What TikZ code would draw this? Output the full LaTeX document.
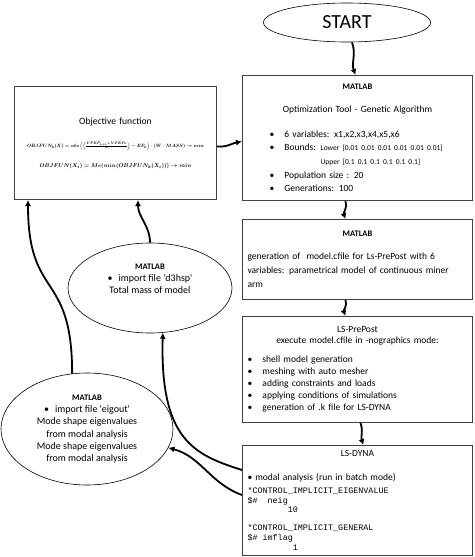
\documentclass[tikz,border=0pt]{standalone}
\usepackage{fontspec}
\setmainfont{Carlito}
\setmonofont{Liberation Mono}
\usepackage{amsmath}
\usepackage{graphicx}
\usetikzlibrary{shapes.geometric,arrows.meta,positioning}
\setlength{\parindent}{0pt}
\newlength{\bndw}
\newcommand{\bitem}[2][22pt]{\par\noindent\hspace*{#1}\makebox[15pt][l]{\textbullet}#2}
\newcommand{\titlefont}{\fontsize{8.5}{10}\selectfont\bfseries}
\newcommand{\smallfont}{\fontsize{7.5}{9}\selectfont}
\tikzset{
	boxed/.style={rectangle,draw=black!75,line width=1pt,anchor=north west,
		minimum width=230pt,text width=220pt,inner xsep=5pt,inner ysep=0pt,
		font=\fontsize{9.5}{12}\selectfont},
	elli/.style={ellipse,draw,line width=0.6pt,align=center,inner sep=0pt,
		font=\fontsize{10}{12.3}\selectfont},
	flow/.style={-{Latex[length=6pt,width=6pt]},line width=1.8pt},
}
\begin{document}
\begin{tikzpicture}[x=1pt,y=-1pt]
	\useasboundingbox (0,0) rectangle (474,557);
	% right column
	\node[elli,minimum width=167pt,minimum height=39pt,font=\fontsize{20}{24}\selectfont] (start) at (347,22.5) {START};
	\node[boxed,minimum height=125pt] (opt) at (242,75) {
		{\centering\titlefont MATLAB\par}
		\vspace{11pt}
		{\centering Optimization Tool - Genetic Algorithm\par}
		\vspace{11pt}
		\fontsize{9.5}{13.7}\selectfont
		\bitem{6 variables: x1,x2,x3,x4,x5,x6}
		\bitem{\settowidth{\bndw}{Bounds: }Bounds: {\smallfont Lower [0.01 0.01 0.01 0.01 0.01 0.01]}}
		\par\hspace*{\dimexpr 37pt+\bndw\relax}{\smallfont Upper [0.1 0.1 0.1 0.1 0.1 0.1]}
		\bitem{Population size : 20}
		\bitem{Generations: 100}\par
	};
	\node[boxed,minimum height=80pt] (model) at (242,219) {
		{\centering\titlefont MATLAB\par}
		\vspace{9pt}
		\fontsize{9.5}{14}\selectfont
		generation of\ \ model.cfile for Ls-PrePost with 6\\
		variables: parametrical model of continuous miner\\
		arm\par
		\vspace{11pt}
	};
	\node[boxed,minimum height=106pt] (prepost) at (242,316) {
		\fontsize{9.5}{11}\selectfont
		{\centering LS-PrePost\par}
		{\centering execute model.cfile in -nographics mode:\par}
		\vspace{7pt}
		\fontsize{9.5}{12}\selectfont
		\bitem[0pt]{shell model generation}
		\bitem[0pt]{meshing with auto mesher}
		\bitem[0pt]{adding constraints and loads}
		\bitem[0pt]{applying conditions of simulations}
		\bitem[0pt]{generation of .k file for LS-DYNA}\par
		\vspace{11pt}
	};
	\node[boxed,minimum height=110pt] (dyna) at (242,445) {
		{\centering LS-DYNA\par}
		\vspace{12pt}
		\textbullet\ modal analysis (run in batch mode)\par
		\vspace{3pt}
		{\ttfamily\fontsize{8.4}{9.7}\selectfont
		*CONTROL\_IMPLICIT\_EIGENVALUE\\
		\$\#\phantom{00}neig\\
		\phantom{00000000}10\\[8.3pt]
		*CONTROL\_IMPLICIT\_GENERAL\\
		\$\#\phantom{0}imflag\\
		\phantom{000000000}1\par}
	};
	% left column
	\node[boxed,minimum width=202pt,text width=192pt,minimum height=113pt] (obj) at (14,86) {
		{\centering\fontsize{9.6}{12}\selectfont Objective function\par}
		\vspace{11pt}
		{\centering\resizebox{177pt}{!}{\boldmath$OBJFUN_k(X) = abs\left(\left(\frac{VFEP_{k+1}+VFEP_k}{2}\right)-EF_k\right)\cdot(W\cdot MASS)\rightarrow min$}\par}
		\vspace{8pt}
		{\centering\resizebox{152pt}{!}{\boldmath$OBJFUN(X_i) = Me(min(OBJFUN_k(X_i)))\rightarrow min$}\par}
		\vspace{4pt}
	};
	\node[elli,minimum width=164pt,minimum height=90pt] (mass) at (150,288) {
		{\titlefont MATLAB}\\
		\textbullet\hspace{6pt}import file \textquotesingle d3hsp\textquotesingle\\
		Total mass of model\\[6pt]
		\mbox{}};
	\node[elli,minimum width=172pt,minimum height=112pt] (eig) at (87,429) {
		{\titlefont MATLAB}\\
		\textbullet\hspace{6pt}import file \textquotesingle eigout\textquotesingle\\
		Mode shape eigenvalues\\
		from modal analysis\\
		Mode shape eigenvalues\\
		from modal analysis};
	% connectors
	\draw[flow] ([xshift=5pt]start.south) to[out=-70,in=110] ([xshift=-2pt]opt.north);
	\draw[flow] ([xshift=-12pt]opt.south) to[out=-70,in=110] ([xshift=-12pt]model.north);
	\draw[flow] ([xshift=-12pt]model.south) to[out=-70,in=110] ([xshift=-12pt]prepost.north);
	\draw[flow] ([xshift=3pt]prepost.south) to[out=-70,in=110] ([xshift=6pt]dyna.north);
	\draw[flow] ([yshift=-3.5pt]obj.east) to[out=-5,in=190] ([yshift=-3.5pt]opt.west);
	\draw[flow] (mass.north) to[out=90,in=-90] ([xshift=124pt]obj.south west);
	\draw[flow] (eig.105) .. controls +(0,-104) and +(0,101) .. ([xshift=14pt]obj.south west);
	\draw[flow] ([yshift=-25pt]dyna.north west) .. controls +(-47,-15) and +(-3,108) .. (mass.-74);
	\draw[flow] ([yshift=-50pt]dyna.north west) to[out=160,in=-15] (eig.-13);
\end{tikzpicture}
\end{document}
